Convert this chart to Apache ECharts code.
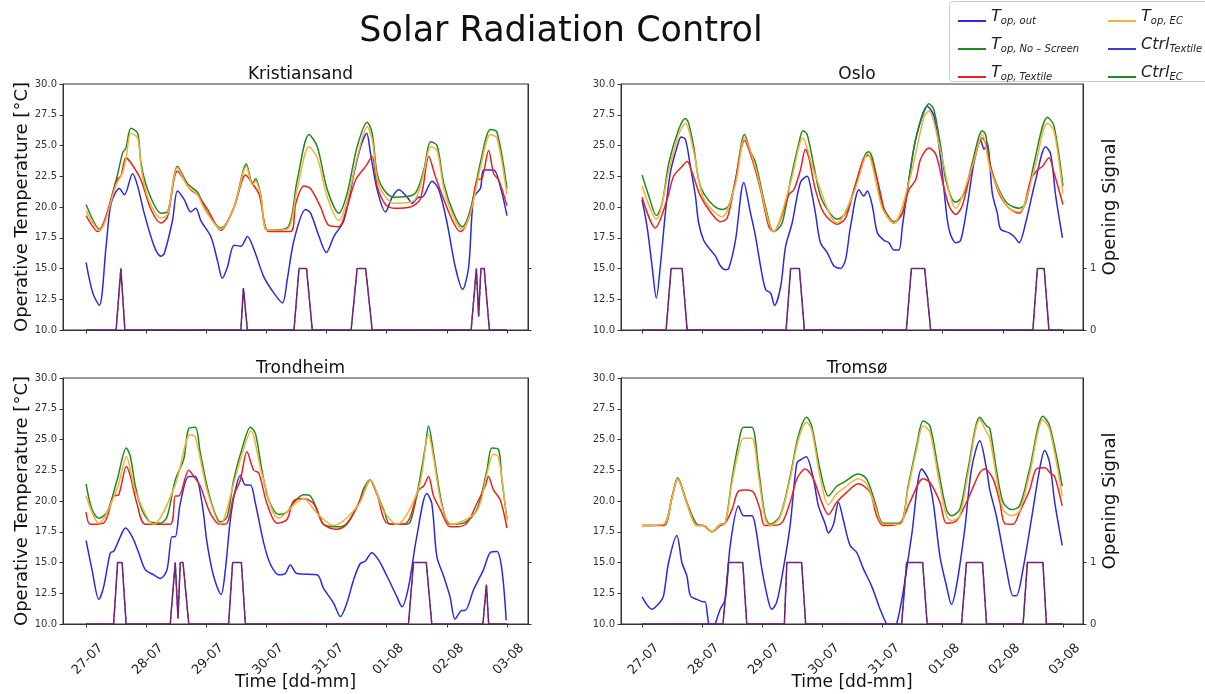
<!DOCTYPE html>
<html>
<head>
<meta charset="utf-8">
<script src="https://cdn.jsdelivr.net/npm/echarts@6/dist/echarts.min.js"></script>
<style>
  html, body { margin: 0; background: #fff; }
  #chart { width: 1205px; height: 694px; }
</style>
</head>
<body>
<div id="chart"></div>
<script>
// Data: [hour since 27-07 00:00, value]
const dayLabels = ["27-07", "28-07", "29-07", "30-07", "31-07", "01-08", "02-08", "03-08"];

// Kristiansand
const kriOut = [[0,15.5],[2.7,13.0],[5.3,12.0],[8,16.8],[10,20.3],[13.3,21.5],[15.3,21.0],[18.6,22.7],[20.6,21.7],[23.2,19.5],[27.2,16.8],[29.9,16.0],[31.2,16.2],[34.5,18.9],[36.5,21.3],[39.2,20.6],[41.8,19.6],[43.8,19.9],[45.8,18.9],[49.8,17.6],[52.5,15.6],[54.4,14.2],[56.4,15.1],[59.1,16.9],[61.8,16.8],[64.4,17.6],[67.1,16.5],[71,14.3],[75,13.0],[78.4,12.2],[80.3,14.1],[83,17.3],[87.6,19.8],[89.6,19.5],[93,17.6],[95.9,16.3],[98.9,17.6],[102.9,18.9],[106.9,22.7],[109.6,24.9],[112,26.0],[113.5,24.4],[116.2,21.4],[119.5,19.6],[122.2,20.8],[124.8,21.4],[128.2,20.8],[130.1,20.3],[132.8,20.8],[134.1,20.8],[138.1,22.1],[140.8,21.4],[144.1,18.7],[147.4,15.1],[150.3,13.3],[152.7,15.1],[154.7,20.8],[157.4,21.5],[158.7,23.0],[162.7,23.0],[165.3,21.7],[168,19.3]];
const kriNoScreen = [[0,20.2],[5.3,18.2],[12,22.2],[14.6,24.4],[15.9,24.8],[17.9,26.4],[20.6,26.0],[21.9,23.6],[24.6,21.4],[29.9,19.5],[32.5,19.6],[36.5,23.3],[40.5,21.9],[44.5,21.2],[47.1,20.0],[53.8,18.3],[59.1,20.0],[64,23.5],[66.4,21.9],[67.7,22.3],[69.7,21.0],[72.4,18.1],[80.3,18.3],[84.3,22.2],[89,25.9],[92.3,24.9],[96.3,21.4],[100.9,19.5],[104.2,21.1],[108.2,24.9],[112.2,26.9],[114.2,26.0],[116.2,22.7],[118.9,21.4],[122.8,20.8],[130.8,21.0],[134.8,23.0],[137.5,25.3],[140.1,25.0],[142.8,21.9],[146.7,19.5],[150.1,18.4],[153.4,19.8],[157.4,23.6],[161.4,26.3],[164,26.1],[168,21.5]];
const kriTextile = [[0,19.3],[4.6,18.0],[12.6,22.3],[13.9,22.5],[15.9,24.0],[17.9,23.6],[21.9,22.2],[25.9,19.8],[29.9,18.7],[32.5,19.2],[36.5,22.9],[41.8,21.4],[44.5,21.0],[48.5,19.8],[53.8,18.1],[59.1,20.0],[63.7,22.6],[66.4,21.9],[69.1,21.0],[73,18.0],[81.7,18.0],[83.7,20.3],[87,21.7],[89.6,21.5],[93.6,20.0],[96.9,18.5],[100.9,18.4],[104.2,20.0],[107.6,22.2],[111.6,23.3],[114.2,24.1],[116.2,21.7],[119.5,20.2],[122.8,19.9],[129.5,20.0],[133.5,20.7],[136.8,24.1],[139.4,22.5],[142.8,20.6],[146.7,18.7],[149.4,18.0],[153.4,19.5],[156,22.2],[158,22.3],[160.7,24.6],[162.7,22.7],[164.7,22.2],[168,20.1]];
const kriEC = [[0,19.7],[5.3,18.1],[12,21.8],[14.6,22.8],[16,24.0],[17.9,26.0],[20.6,25.6],[22,23.2],[24.6,20.8],[29.9,19.1],[32.5,19.4],[36.5,23.2],[40.5,21.7],[44.5,21.0],[47.1,19.9],[53.8,18.2],[59.1,20.0],[64,23.3],[66.4,21.8],[67.7,22.1],[69.7,20.9],[72.4,18.1],[80.3,18.2],[84.3,21.5],[89,24.9],[92.3,24.0],[96.3,20.8],[100.9,18.9],[104.2,20.5],[108.2,24.0],[112.2,26.5],[114.2,25.5],[116.2,22.3],[118.9,21.0],[122.8,20.3],[130.8,20.5],[134.8,22.8],[137.5,24.9],[140.1,24.6],[142.8,21.5],[146.7,19.2],[150.1,18.2],[153.4,19.5],[157.4,23.2],[161.4,25.9],[164,25.6],[168,21.0]];
const kriCtrl = [[0,0],[12,0],[13.9,1],[15.5,0],[61.8,0],[62.8,0.68],[64.4,0],[83,0],[85,1],[88,1],[90.3,0],[105.8,0],[108.2,1],[111.6,1],[114.2,0],[153.7,0],[155.8,1],[156.7,0.22],[157.6,1],[158.9,1],[161,0],[168,0]];

// Oslo
const osloOut = [[0,20.6],[2,18.4],[4,15.2],[5.7,12.6],[7.3,15.2],[9.3,19.5],[11.3,22.8],[14,24.9],[15.6,25.7],[17.3,25.5],[19.3,23.3],[21.3,20.9],[22.6,18.7],[24.6,17.3],[27.3,16.5],[29.3,16.0],[31.3,15.2],[33.3,14.9],[34.6,15.0],[37.3,17.3],[40.6,22.0],[43.3,19.5],[45.3,17.6],[47.3,15.2],[49.3,13.3],[51.3,13.0],[52.9,12.0],[55.3,13.5],[57.3,16.8],[59.9,18.7],[63.2,22.0],[65.9,22.5],[67.2,21.7],[69.2,19.5],[71.2,17.1],[73.9,16.3],[76.6,15.2],[79.2,15.0],[81.2,15.7],[83.2,18.4],[86.6,21.4],[88.5,20.9],[89.9,21.3],[91.9,20.1],[93.9,17.9],[96.5,17.3],[98.5,17.1],[100.5,16.5],[102.5,16.5],[103.9,18.4],[106.5,22.2],[109.2,25.5],[113.8,28.2],[116.5,27.4],[119.2,23.9],[120.5,21.4],[122.5,18.2],[125.2,17.1],[127.2,17.3],[129.8,20.1],[132.5,23.6],[135.2,25.4],[136.5,24.7],[137.8,25.2],[139.8,21.1],[141.8,19.5],[143.1,18.2],[146.5,17.9],[148.5,17.6],[150.5,17.1],[153.1,18.7],[157.1,22.2],[161.1,24.9],[163.1,24.3],[165.1,20.9],[167.8,17.5]];
const osloNoScreen = [[0,22.6],[2.7,20.9],[5.7,19.3],[8,20.3],[10.7,23.6],[14.6,26.3],[17.3,27.2],[18.6,26.8],[20.6,24.9],[22.6,22.2],[24.6,21.1],[28.6,20.1],[32,19.8],[34.6,20.1],[37.3,22.2],[40.9,25.9],[43.3,24.5],[45.3,23.6],[48.6,20.6],[51.3,18.4],[52.6,18.0],[55.9,18.7],[59.3,22.2],[62.6,25.2],[64.2,26.2],[65.9,25.9],[68.6,23.3],[71.2,20.9],[74.6,19.6],[77.9,19.0],[81.2,19.5],[84.6,21.4],[89.2,24.3],[90.5,24.5],[91.9,24.0],[93.9,22.2],[95.9,20.1],[99.2,19.0],[100.5,18.8],[103.9,19.5],[106.5,22.2],[109.2,25.5],[112.5,27.7],[114.5,28.4],[116.5,27.9],[119.2,24.9],[121.2,22.2],[123.8,20.6],[125.2,20.4],[128.5,21.1],[131.8,23.6],[135.8,26.2],[137.1,25.9],[139.1,23.3],[142.5,21.4],[145.8,20.3],[150.5,19.9],[153.1,20.3],[156.5,23.6],[161.8,27.3],[164.4,26.6],[168,21.7]];
const osloTextile = [[0,20.8],[5.3,18.3],[10,20.6],[12.6,22.5],[16,23.3],[18,23.7],[20,22.8],[23.3,20.9],[27.3,19.6],[31.3,18.8],[34,19.1],[37.3,22.2],[40.9,25.4],[43.9,23.9],[47.3,21.4],[50.6,18.4],[52.6,18.0],[55.3,19.0],[58.6,21.0],[60.6,21.4],[63.2,23.0],[65.2,24.7],[66.6,24.0],[69.2,21.4],[72.6,19.5],[77.9,18.6],[81.2,19.1],[84.6,21.4],[88.5,24.0],[90.5,24.2],[91.9,23.6],[94.5,21.7],[97.2,19.5],[100.5,18.7],[103.9,19.5],[106.5,21.4],[109.2,22.2],[111.2,23.9],[114.5,24.8],[117.2,24.3],[119.8,22.2],[122.5,20.1],[125.2,19.4],[127.8,20.1],[131.2,22.8],[135.8,25.6],[137.1,25.2],[139.1,23.3],[142.5,21.1],[146.5,19.9],[150.5,19.5],[152.5,20.1],[155.1,22.2],[157.8,23.0],[159.8,23.3],[162.4,24.0],[164.4,22.8],[168,20.2]];
const osloEC = [[0,21.7],[5.7,19.0],[10.7,23.0],[14.6,25.9],[17.3,26.8],[20.6,24.5],[24.6,20.7],[32,19.2],[37.3,21.9],[40.9,25.6],[45.3,23.2],[52.6,18.0],[59.3,22.0],[64.2,25.6],[68.6,22.9],[77.9,18.7],[84.6,21.2],[90,24.3],[95.9,19.9],[100.5,18.7],[106.5,22.0],[112.5,27.3],[114.5,27.8],[119.2,24.5],[125.2,19.9],[131.8,23.3],[135.8,25.9],[139.1,23.0],[145.8,20.0],[150.5,19.6],[156.5,23.0],[161.8,26.8],[164.4,26.2],[168,21.1]];
const osloCtrl = [[0,0],[9.6,0],[11.6,1],[16,1],[18,0],[57.5,0],[59.3,1],[62.8,1],[64.8,0],[105.5,0],[107.5,1],[112.8,1],[115.2,0],[156,0],[157.8,1],[160.5,1],[162.4,0],[168,0]];

// Trondheim
const trdOut = [[0,16.8],[2.4,14.4],[5.1,12.0],[7,13.0],[9.7,15.8],[11,15.9],[13.7,17.1],[15.7,17.8],[18.4,17.1],[21,15.8],[23.7,14.4],[27,14.0],[29.7,13.7],[32.3,14.4],[34.3,17.1],[35.6,17.1],[37.6,19.8],[41,22.0],[43.6,22.0],[46.3,19.8],[48.3,16.6],[50.9,13.9],[53.9,12.4],[55.6,14.4],[57.6,18.5],[59.6,20.9],[61.6,22.1],[63.6,21.3],[65.6,21.3],[67.6,19.8],[70.9,16.6],[73.5,14.9],[76.9,14.0],[79.5,14.1],[81.5,14.8],[84.2,14.1],[92.2,14.0],[94.8,12.9],[98.8,11.7],[101.5,10.6],[104.1,11.7],[106.8,13.6],[109.4,14.9],[111.4,15.1],[114.1,15.8],[116.8,15.2],[120.1,13.9],[124.1,12.2],[126.1,11.4],[128.7,13.0],[132,17.1],[136,20.6],[138,19.8],[140,15.5],[142.7,13.9],[145.3,12.2],[147.3,10.4],[150,11.1],[151.3,11.1],[154.7,12.8],[158.6,14.4],[161.3,15.8],[164,15.9],[166,14.4],[167.7,10.3]];
const trdNoScreen = [[0,21.4],[2.4,19.3],[5.1,18.6],[8.4,19.1],[12.4,21.7],[16.1,24.3],[17.7,23.6],[19.7,21.2],[22.3,19.3],[25.7,18.3],[29.7,18.2],[32.3,18.7],[35.6,21.7],[39,23.4],[41,25.9],[43.6,26.0],[45.6,23.9],[48.3,21.2],[50.9,19.3],[53.6,18.3],[56.3,18.7],[58.9,21.7],[62.2,24.2],[65.6,26.0],[67.6,25.5],[70.2,22.5],[72.9,20.1],[76.9,18.9],[80.2,19.1],[82.6,19.8],[86.8,20.5],[89.5,20.4],[92.2,19.3],[94.8,18.1],[100.8,17.9],[104.1,18.2],[108.8,19.8],[110.8,21.0],[113.4,21.7],[115.4,20.9],[118.8,19.3],[121.4,18.1],[126.7,18.1],[129.4,18.3],[132.7,21.2],[135.4,24.4],[136.7,26.1],[138.7,23.9],[142,19.8],[145.3,18.1],[150.7,18.2],[156,19.3],[160,22.5],[162,24.3],[164.6,24.2],[166,21.7],[168,18.5]];
const trdTextile = [[0,19.1],[1.7,18.1],[7,18.2],[11,20.4],[13,20.5],[16.1,22.8],[17.7,22.0],[20.3,19.8],[23.7,18.1],[33.6,18.1],[35.6,20.4],[37,20.4],[41,22.5],[43,22.0],[45.6,21.2],[49.6,19.0],[53.6,18.1],[56.3,18.2],[58.9,20.4],[61.6,21.7],[64.2,24.0],[66.9,22.5],[68.9,22.3],[72.2,19.8],[76.2,18.2],[80.2,18.5],[82.8,20.0],[86.8,20.2],[90.8,19.8],[94.8,18.1],[100.1,17.7],[104.1,18.1],[108.8,19.8],[112.8,21.6],[113.4,21.7],[116.1,20.6],[120.1,18.2],[126.7,18.1],[129.4,18.7],[132.7,20.9],[134.7,21.2],[136.7,22.0],[138.7,20.4],[141.4,19.3],[145.3,17.9],[148,17.9],[152,18.2],[156,19.8],[159.3,21.2],[160.6,22.0],[162.6,20.9],[165.3,20.1],[168,17.8]];
const trdEC = [[0,20.4],[5.1,18.2],[12.4,21.0],[16.1,23.6],[19.7,20.8],[27,18.1],[35.6,21.3],[41.6,25.4],[43.6,25.2],[48.3,20.9],[53.6,18.1],[58.9,21.4],[62.2,23.8],[65.8,25.7],[70.2,22.2],[76.9,18.6],[86.8,20.2],[92.2,19.0],[98.8,18.0],[108.8,19.7],[113.4,21.7],[118.8,19.2],[124.1,18.1],[132.7,21.0],[136.7,25.4],[138.7,23.5],[142,19.6],[146,18.1],[156,19.2],[160,22.2],[162.6,23.8],[164.6,23.6],[168,18.3]];
const trdCtrl = [[0,0],[11,0],[12.6,1],[14.4,1],[16,0],[33.6,0],[35.6,1],[36.7,0.09],[37.6,1],[38.7,1],[41,0],[56.9,0],[58.5,1],[62,1],[63.6,0],[128.7,0],[130.7,1],[135.8,1],[138,0],[158.4,0],[159.8,0.64],[160.7,0],[168,0]];

// Tromsø
const tromOut = [[0,12.2],[4,11.2],[7.3,11.8],[8.6,12.3],[10.6,15.0],[13.9,17.2],[15.9,15.0],[17.9,13.9],[19.3,12.3],[21.9,12.0],[24.6,11.8],[25.2,11.8],[26.6,10.0],[27.9,9.2],[29.2,10.0],[31.2,11.2],[33.2,12.0],[35.2,16.4],[38.5,19.6],[40.5,18.8],[43.8,18.8],[45.2,18.0],[47.8,14.5],[50.5,11.8],[51.8,11.2],[53.8,11.8],[56.4,14.5],[59.1,18.0],[61.8,23.1],[63.7,23.4],[65.5,23.6],[68.4,21.8],[70.4,19.6],[73,18.2],[74.4,17.4],[76.4,18.1],[78.4,19.9],[80.3,18.5],[83,16.4],[85.7,15.8],[88.3,14.5],[91.6,13.1],[95,11.2],[97.6,10.0],[99.6,9.3],[101.6,10.0],[104.2,12.6],[107.6,17.2],[111.6,22.6],[114.2,21.8],[116.2,19.9],[118.9,15.5],[121.5,13.1],[123.5,11.6],[125.5,13.1],[128.8,17.7],[131.5,22.6],[134.8,24.9],[137.5,22.6],[138.8,20.9],[141.4,18.8],[145.4,14.5],[148.1,12.3],[149.4,12.3],[152.1,14.5],[155.4,18.5],[158.7,22.6],[160.7,24.1],[162.7,23.1],[164.7,19.9],[167.7,16.4]];
const tromNoScreen = [[0,18.0],[8.6,18.1],[12,20.4],[14.2,21.9],[17.9,19.9],[21.9,18.1],[24.6,18.0],[27.9,17.5],[31.2,18.1],[33.2,18.2],[35.9,21.8],[38.5,24.7],[40.5,26.0],[43.8,26.0],[46.5,22.6],[49.1,18.8],[51.1,18.1],[55.1,18.8],[59.1,22.0],[62.4,25.3],[65.7,26.8],[67.7,26.1],[71,22.6],[74.4,20.4],[77.7,21.2],[80.3,21.5],[86.3,22.2],[89.6,21.8],[93,19.9],[96.3,18.2],[102.9,18.2],[106.2,21.2],[109.6,24.5],[112.2,26.5],[114.9,26.1],[118.2,22.6],[121.5,19.3],[123.5,18.8],[126.8,19.3],[130.1,22.6],[134.8,26.8],[137.5,26.1],[138.8,25.9],[141.4,22.6],[144.1,19.9],[147.4,19.3],[150.7,19.6],[154.7,22.6],[160,26.9],[162.7,26.1],[167.7,21.2]];
const tromTextile = [[0,18.0],[8.6,18.0],[12,20.3],[14.2,21.8],[17.9,19.8],[21.9,18.0],[24.6,18.0],[27.9,17.5],[31.2,18.0],[33.2,18.2],[35.9,19.3],[38.5,20.8],[41.8,20.9],[44.5,20.7],[47.1,19.3],[49.1,18.0],[55.1,18.1],[59.1,19.9],[61.8,21.8],[65.1,22.6],[68.4,21.8],[71.7,19.9],[74.4,18.9],[77.7,19.9],[81.7,20.7],[86.3,21.4],[91,20.7],[93.6,18.8],[96.3,18.0],[102.9,18.2],[106.9,19.9],[112.2,21.8],[114.9,21.5],[118.9,19.9],[121.5,18.2],[125.5,18.4],[129.5,19.9],[134.8,22.3],[136.8,22.6],[140.1,21.8],[142.8,19.9],[144.7,18.2],[148.1,18.1],[150.7,19.1],[154.7,20.9],[157.4,22.6],[160.7,22.7],[163.3,22.2],[164.7,22.0],[167.7,19.6]];
const tromEC = [[0,18.0],[8.6,18.1],[12,20.3],[14.2,21.8],[17.9,19.8],[21.9,18.0],[24.6,18.0],[27.9,17.5],[31.2,18.1],[33.2,18.2],[35.9,21.5],[38.5,24.0],[40.5,25.1],[43.8,25.1],[46.5,22.0],[49.1,18.6],[51.1,18.0],[55.1,18.7],[59.1,21.8],[62.4,25.0],[65.7,26.4],[67.7,25.8],[71,22.0],[74.4,19.7],[77.7,20.6],[80.3,21.0],[86.3,21.8],[89.6,21.4],[93,19.6],[96.3,18.1],[102.9,18.1],[106.2,21.0],[109.6,24.2],[112.2,26.1],[114.9,25.6],[118.2,22.0],[121.5,18.8],[123.5,18.4],[126.8,18.8],[130.1,22.2],[134.8,26.6],[137.5,25.6],[138.8,25.1],[141.4,22.0],[144.1,19.3],[147.4,18.8],[150.7,19.2],[154.7,22.2],[160,26.6],[162.7,25.8],[167.7,20.4]];
const tromCtrl = [[0,0],[32.3,0],[34.5,1],[40.2,1],[41.8,0],[56.8,0],[57.8,1],[63.7,1],[65.3,0],[103.6,0],[105.6,1],[112,1],[113.8,0],[127.5,0],[129.5,1],[135.9,1],[137.5,0],[152.1,0],[153.8,1],[160,1],[161.4,0],[168,0]];

const cities = ["Kristiansand", "Oslo", "Trondheim", "Tromsø"];

// Chart Functionalities
const font = "DejaVu Sans";
const colors = {
  out: "#2a2ae0",
  noScreen: "#1f8a1f",
  textile: "#ea2222",
  ec: "#f3b23c",
  ctrlTextile: "#55257f",
  ctrlEC: "#8e2266",
};

const panels = [
  { city: cities[0], out: kriOut, noScreen: kriNoScreen, textile: kriTextile, ec: kriEC, ctrl: kriCtrl, left: 63, top: 84, width: 465, min: -9.2, max: 176.4, right: false, bottom: false },
  { city: cities[1], out: osloOut, noScreen: osloNoScreen, textile: osloTextile, ec: osloEC, ctrl: osloCtrl, left: 621, top: 84, width: 462, min: -8.4, max: 176, right: true, bottom: false },
  { city: cities[2], out: trdOut, noScreen: trdNoScreen, textile: trdTextile, ec: trdEC, ctrl: trdCtrl, left: 63, top: 378, width: 465, min: -9.2, max: 176.4, right: false, bottom: true },
  { city: cities[3], out: tromOut, noScreen: tromNoScreen, textile: tromTextile, ec: tromEC, ctrl: tromCtrl, left: 621, top: 378, width: 462, min: -8.4, max: 176, right: true, bottom: true },
];

const dayTicks = dayLabels.map((d, k) => k * 24);
const axisColor = "#333";
// rotated labels in the original are centred on their tick, ECharts anchors them at the end
const labelShift = 6;

const grids = [], xAxes = [], labelAxes = [], yAxes = [], series = [];
const titles = [
  { text: "Solar Radiation Control", left: 556, top: 9, textAlign: "center",
    textStyle: { fontFamily: font, fontSize: 35, fontWeight: "normal", color: "#111" } },
];

panels.forEach((p, i) => {
  grids.push({ left: p.left, top: p.top, width: p.width, height: 246, show: true, borderColor: axisColor, borderWidth: 1, containLabel: false });
  titles.push({ text: p.city, left: p.left + p.width / 2, top: p.top - 23, textAlign: "center",
    textStyle: { fontFamily: font, fontSize: 17, fontWeight: "normal", color: "#111" } });

  xAxes.push({
    gridIndex: i, type: "value", min: p.min, max: p.max,
    axisLine: { show: true, onZero: false, lineStyle: { color: axisColor } },
    axisTick: { show: true, customValues: dayTicks, length: 3.5, lineStyle: { color: axisColor } },
    axisLabel: { show: false },
    splitLine: { show: false },
    name: p.bottom ? "Time [dd-mm]" : "", nameLocation: "middle", nameGap: 50,
    nameTextStyle: { fontFamily: font, fontSize: 17, color: "#111" },
  });
  labelAxes.push({
    gridIndex: i, type: "value", position: "bottom", min: p.min - labelShift, max: p.max - labelShift,
    axisLine: { show: false, onZero: false },
    axisTick: { show: false },
    axisLabel: {
      show: p.bottom, customValues: dayTicks, rotate: 45, margin: 22,
      fontFamily: font, fontSize: 13, color: "#222",
      formatter: (v) => dayLabels[Math.round(v / 24)],
    },
    splitLine: { show: false },
  });

  yAxes.push({
    gridIndex: i, type: "value", min: 10, max: 30, interval: 2.5, position: "left",
    axisLine: { show: true, onZero: false, lineStyle: { color: axisColor } },
    axisTick: { show: true, length: 3.5, lineStyle: { color: axisColor } },
    axisLabel: { fontFamily: font, fontSize: 10, color: "#333", margin: 6, formatter: (v) => v.toFixed(1) },
    splitLine: { show: false },
    name: p.right ? "" : "Operative Temperature [°C]", nameLocation: "middle", nameGap: 31,
    nameTextStyle: { fontFamily: font, fontSize: 18, color: "#111" },
  });
  yAxes.push({
    gridIndex: i, type: "value", min: 0, max: 4, position: "right",
    axisLine: { show: true, onZero: false, lineStyle: { color: axisColor } },
    axisTick: { show: true, customValues: [0, 1], length: 3.5, lineStyle: { color: axisColor } },
    axisLabel: { show: p.right, customValues: [0, 1], fontFamily: font, fontSize: 10, color: "#333", margin: 7 },
    splitLine: { show: false },
    name: p.right ? "Opening Signal" : "", nameLocation: "middle", nameGap: 18,
    nameTextStyle: { fontFamily: font, fontSize: 18, color: "#111" },
  });

  const line = (name, data, color, yIdx, extra) => Object.assign({
    name, type: "line", data, xAxisIndex: i, yAxisIndex: yIdx,
    showSymbol: false, smooth: 0.3, animation: false,
    lineStyle: { color, width: 1.5 }, itemStyle: { color },
  }, extra || {});

  series.push(line("T_op,out", p.out, colors.out, 2 * i));
  series.push(line("T_op,No-Screen", p.noScreen, colors.noScreen, 2 * i));
  series.push(line("T_op,Textile", p.textile, colors.textile, 2 * i));
  series.push(line("T_op,EC", p.ec, colors.ec, 2 * i));
  series.push(line("Ctrl_Textile", p.ctrl, colors.ctrlTextile, 2 * i + 1, { smooth: false }));
  series.push(line("Ctrl_EC", p.ctrl, colors.ctrlEC, 2 * i + 1,
    { smooth: false, lineStyle: { color: colors.ctrlEC, width: 1.2, type: [4, 3] } }));
});

const legendNames = {
  "T_op,out": "{m|T}{s|op, out}",
  "T_op,No-Screen": "{m|T}{s|op, No – Screen}",
  "T_op,Textile": "{m|T}{s|op, Textile}",
  "T_op,EC": "{m|T}{s|op, EC}",
  "Ctrl_Textile": "{m|Ctrl}{s|Textile}",
  "Ctrl_EC": "{m|Ctrl}{s|EC}",
};
const legendRich = {
  m: { fontFamily: font, fontStyle: "italic", fontSize: 16, color: "#222", lineHeight: 14, verticalAlign: "top" },
  s: { fontFamily: font, fontStyle: "italic", fontSize: 10, color: "#222", lineHeight: 24 },
};
const legendBase = {
  orient: "vertical", top: 4, itemGap: 11, itemWidth: 28, itemHeight: 2, icon: "rect",
  formatter: (n) => legendNames[n], textStyle: { rich: legendRich },
};

let chart = echarts.init(document.getElementById("chart"), null, { renderer: "canvas" });

let option = {
  backgroundColor: "#fff",
  animation: false,
  title: titles,
  legend: [
    Object.assign({}, legendBase, { left: 953, data: [
      { name: "T_op,out", itemStyle: { color: colors.out } },
      { name: "T_op,No-Screen", itemStyle: { color: colors.noScreen } },
      { name: "T_op,Textile", itemStyle: { color: colors.textile } },
    ] }),
    Object.assign({}, legendBase, { left: 1103, data: [
      { name: "T_op,EC", itemStyle: { color: colors.ec } },
      { name: "Ctrl_Textile", itemStyle: { color: "#3a3ae0" } },
      { name: "Ctrl_EC", itemStyle: { color: colors.noScreen } },
    ] }),
  ],
  graphic: [{
    type: "rect", left: 949, top: 1, z: -1,
    shape: { width: 262, height: 80, r: 3 },
    style: { fill: "#fff", stroke: "#ccc", lineWidth: 1 },
  }],
  grid: grids,
  xAxis: xAxes.concat(labelAxes),
  yAxis: yAxes,
  series: series,
};

chart.setOption(option);
</script>
</body>
</html>
